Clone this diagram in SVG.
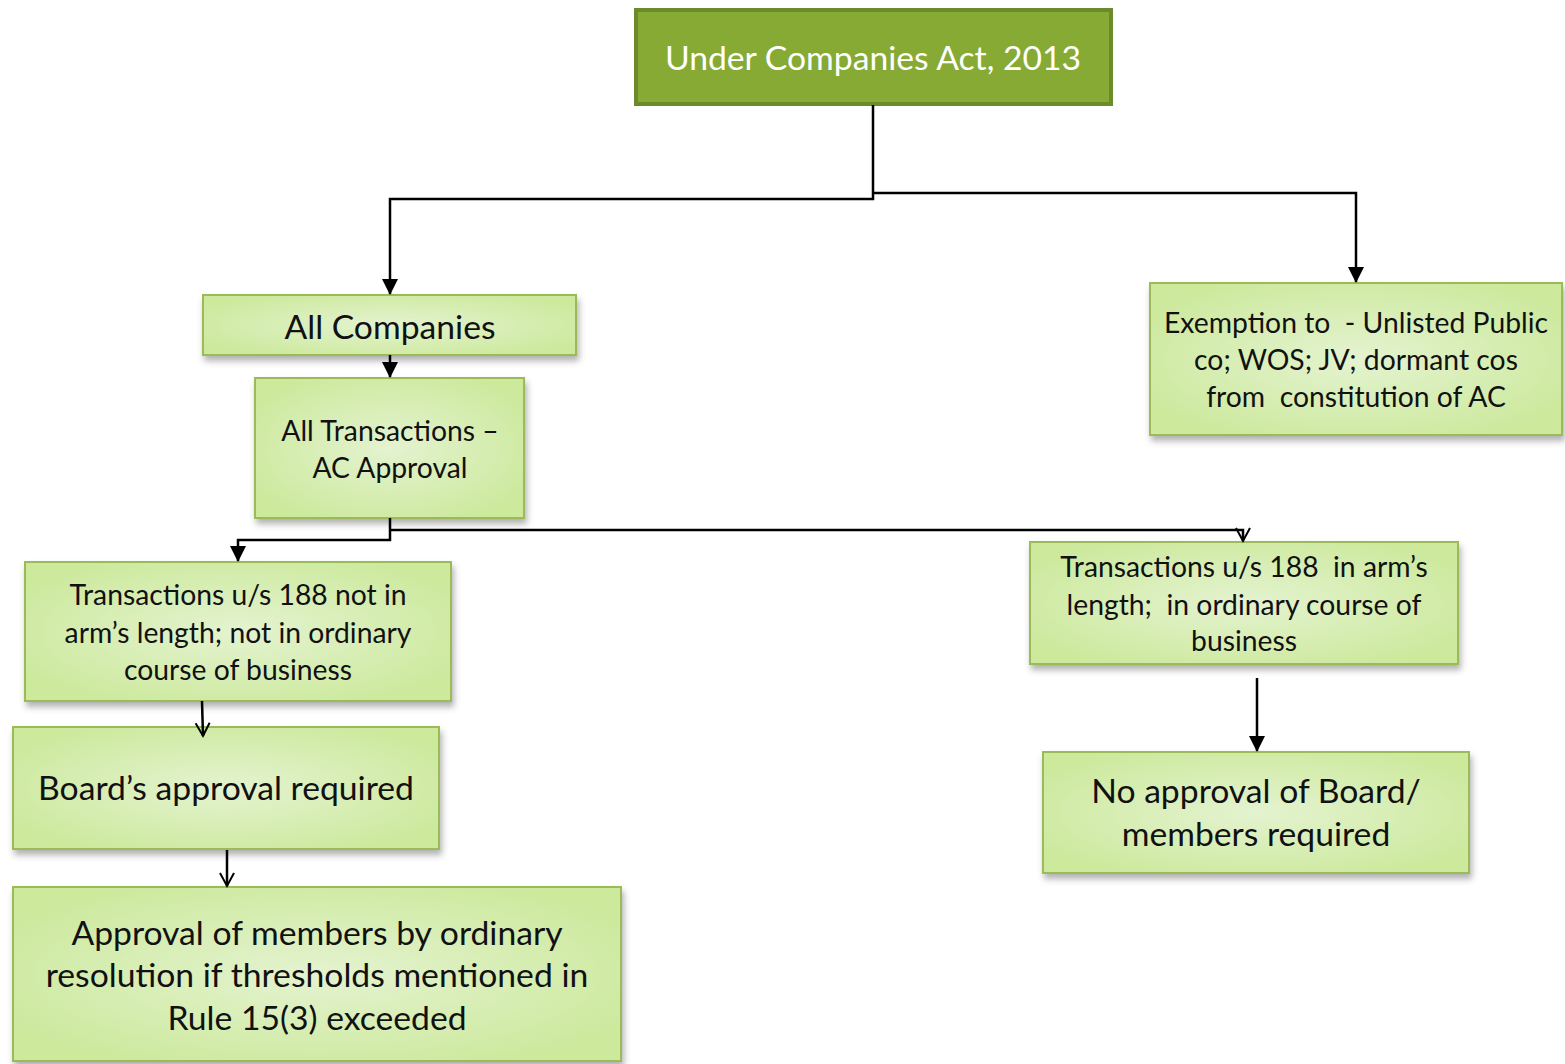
<svg xmlns="http://www.w3.org/2000/svg" width="1565" height="1064" viewBox="0 0 1565 1064">
<style>
.box{fill:url(#g);stroke:#9bbb59;stroke-width:2;filter:url(#sh)}
.t{font-family:Lato,"Open Sans","Liberation Sans",sans-serif;fill:#111;text-anchor:middle;white-space:pre}
.s{font-size:28.3px}
.l{font-size:33.7px}
.c{fill:none;stroke:#000;stroke-width:2.5}
</style>
<defs>
<radialGradient id="g" cx="50%" cy="50%" r="60%">
<stop offset="0" stop-color="#e4f3d0"/>
<stop offset="1" stop-color="#cce99c"/>
</radialGradient>
<filter id="sh" x="-10%" y="-10%" width="125%" height="135%">
<feDropShadow dx="2" dy="5" stdDeviation="3" flood-color="#555" flood-opacity="0.45"/>
</filter>
<marker id="fb" markerWidth="16" markerHeight="16" refX="15" refY="8" orient="auto" markerUnits="userSpaceOnUse" viewBox="0 0 16 16">
<path d="M0,0 L16,8 L0,16 z" fill="#000"/>
</marker>
<marker id="oa" markerWidth="20" markerHeight="20" refX="15" refY="10" orient="auto" markerUnits="userSpaceOnUse" viewBox="0 0 20 20">
<path d="M2,3 L15,10 L2,17" fill="none" stroke="#000" stroke-width="2"/>
</marker>
</defs>
<rect width="1565" height="1064" fill="#fff"/>
<g id="n-top">
<rect x="636" y="10" width="475" height="94" fill="#86aa34" stroke="#6b8a2a" stroke-width="4"/>
<text class="t l" x="873" y="70" style="fill:#fff">Under Companies Act, 2013</text>
</g>
<g id="n-all-companies">
<rect class="box" x="203" y="295" width="373" height="60"/>
<text class="t l" x="390" y="339">All Companies</text>
</g>
<g id="n-all-transactions">
<rect class="box" x="255" y="378" width="269" height="140"/>
<text class="t s" x="390" y="441">All Transactions –</text>
<text class="t s" x="390" y="478">AC Approval</text>
</g>
<g id="n-exemption">
<rect class="box" x="1150" y="283" width="412" height="152"/>
<text class="t s" x="1356" y="333">Exemption to  - Unlisted Public</text>
<text class="t s" x="1356" y="370">co; WOS; JV; dormant cos</text>
<text class="t s" x="1356" y="407">from  constitution of AC</text>
</g>
<g id="n-not-arms">
<rect class="box" x="25" y="562" width="426" height="139"/>
<text class="t s" x="238" y="605">Transactions u/s 188 not in</text>
<text class="t s" x="238" y="643">arm’s length; not in ordinary</text>
<text class="t s" x="238" y="680">course of business</text>
</g>
<g id="n-arms">
<rect class="box" x="1030" y="542" width="428" height="122"/>
<text class="t s" x="1244" y="577">Transactions u/s 188  in arm’s</text>
<text class="t s" x="1244" y="615">length;  in ordinary course of</text>
<text class="t s" x="1244" y="651">business</text>
</g>
<g id="n-board">
<rect class="box" x="13" y="727" width="426" height="122"/>
<text class="t l" x="226" y="800">Board’s approval required</text>
</g>
<g id="n-members">
<rect class="box" x="13" y="887" width="608" height="174"/>
<text class="t l" x="317" y="945">Approval of members by ordinary</text>
<text class="t l" x="317" y="987">resolution if thresholds mentioned in</text>
<text class="t l" x="317" y="1030">Rule 15(3) exceeded</text>
</g>
<g id="n-no-approval">
<rect class="box" x="1043" y="752" width="426" height="121"/>
<text class="t l" x="1256" y="803">No approval of Board/</text>
<text class="t l" x="1256" y="846">members required</text>
</g>
<g id="connectors">
<path class="c" d="M873,105 V199 H390 V294" marker-end="url(#fb)"/>
<path class="c" d="M873,193 H1356 V282" marker-end="url(#fb)"/>
<path class="c" d="M390,355 V377" marker-end="url(#fb)"/>
<path class="c" d="M390,518 V540 H238 V561" marker-end="url(#fb)"/>
<path class="c" d="M390,530 H1243 V541" marker-end="url(#oa)"/>
<path class="c" d="M202,701 L203,736" marker-end="url(#oa)"/>
<path class="c" d="M227,850 V886" marker-end="url(#oa)"/>
<path class="c" d="M1257,678 V751" marker-end="url(#fb)"/>
</g>
</svg>
